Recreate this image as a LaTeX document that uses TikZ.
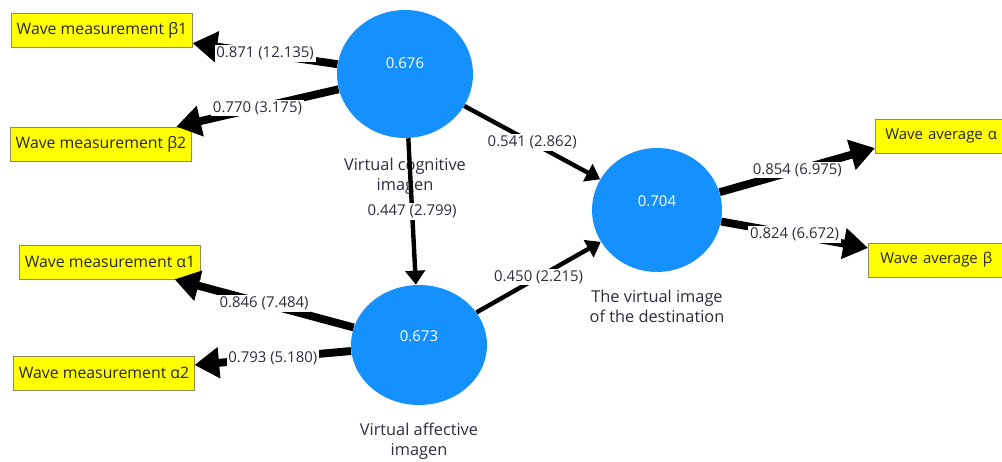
\documentclass[tikz,border=0pt]{standalone}
\usepackage{fontspec}
\setmainfont{Open Sans}
\usepackage{xcolor}
\usepackage{tikz}
\usetikzlibrary{positioning}
\usetikzlibrary{shapes.geometric}
\usetikzlibrary{arrows.meta}
\definecolor{plsblue}{RGB}{20,144,255}
\definecolor{plsyellow}{RGB}{255,255,0}
\definecolor{plstext}{RGB}{45,45,60}

\begin{document}
\begin{tikzpicture}[x=0.02cm, y=-0.02cm, font=\fontsize{8.5}{10}\selectfont,
  lv/.style={ellipse, fill=plsblue, inner sep=0pt, minimum width=2.72cm, minimum height=2.5cm},
  mv/.style={rectangle, fill=plsyellow, draw=gray!60!olive, inner xsep=0.1cm, minimum height=0.68cm,
    font=\fontsize{9}{10}\selectfont, text=black!85},
  lvname/.style={align=center, text=plstext, inner sep=0pt, font=\fontsize{9.3}{11.5}\selectfont},
  coef/.style={fill=white, inner sep=1pt, text=plstext},
  ldg/.style={line width=4.5pt, -{Triangle[length=14pt, width=17pt]}},
  pth/.style={line width=2.5pt, -{Triangle[length=8pt, width=11pt]}}]
  \useasboundingbox (0,0) rectangle (1002,462);
  \clip (0,0) rectangle (1002,462);
  \node (VCI) [lv, minimum height=2.56cm, label={[white, yshift=6pt]center:0.676}] at (405,74) {};
  \node (VAI) [lv, minimum height=2.4cm, label={[white, yshift=5pt]center:0.673}] at (419,345) {};
  \node (DES) [lv, minimum width=2.6cm, minimum height=2.48cm, label={[white, yshift=5pt]center:0.704}] at (657,210) {};
  \node (VCIn) [lvname, below=0.38cm of VCI] {Virtual cognitive\\imagen};
  \node (VAIn) [lvname, below=0.34cm of VAI] {Virtual affective\\imagen};
  \node (DESn) [lvname, below=0.34cm of DES] {The virtual image\\of the destination};
  \node (B1) [mv] at (102,30) {Wave measurement β1};
  \node (B2) [mv] at (101,144) {Wave measurement β2};
  \node (A1) [mv] at (110,262) {Wave measurement α1};
  \node (A2) [mv] at (104,373) {Wave measurement α2};
  \node (WA) [mv, anchor=west, inner xsep=0.2cm, text width=2.6cm, font=\fontsize{8.5}{10}\selectfont] at (875,136) {Wave average α};
  \node (WB) [mv, anchor=west, inner xsep=0.24cm, text width=2.6cm, font=\fontsize{8.5}{10}\selectfont] at (868,260) {Wave average β};
  \draw[ldg] (VCI) to node[coef] {0.871 (12.135)} (B1);
  \draw[ldg] (VCI) to node[coef] {0.770 (3.175)} (B2);
  \draw[ldg] (VAI) to node[coef] {0.846 (7.484)} (A1);
  \draw[ldg] (VAI) to node[coef] {0.793 (5.180)} (A2);
  \draw[ldg] (DES) to node[coef] {0.854 (6.975)} ([yshift=3pt]WA.south west);
  \draw[ldg] (DES) to node[coef] {0.824 (6.672)} ([yshift=-3pt]WB.north west);
  \draw[pth] (VCI) to node[coef] {0.447 (2.799)} (VAI);
  \draw[pth] (VCI) to node[coef] {0.541 (2.862)} (DES);
  \draw[pth] (VAI) to node[coef] {0.450 (2.215)} (DES);
\end{tikzpicture}
\end{document}
